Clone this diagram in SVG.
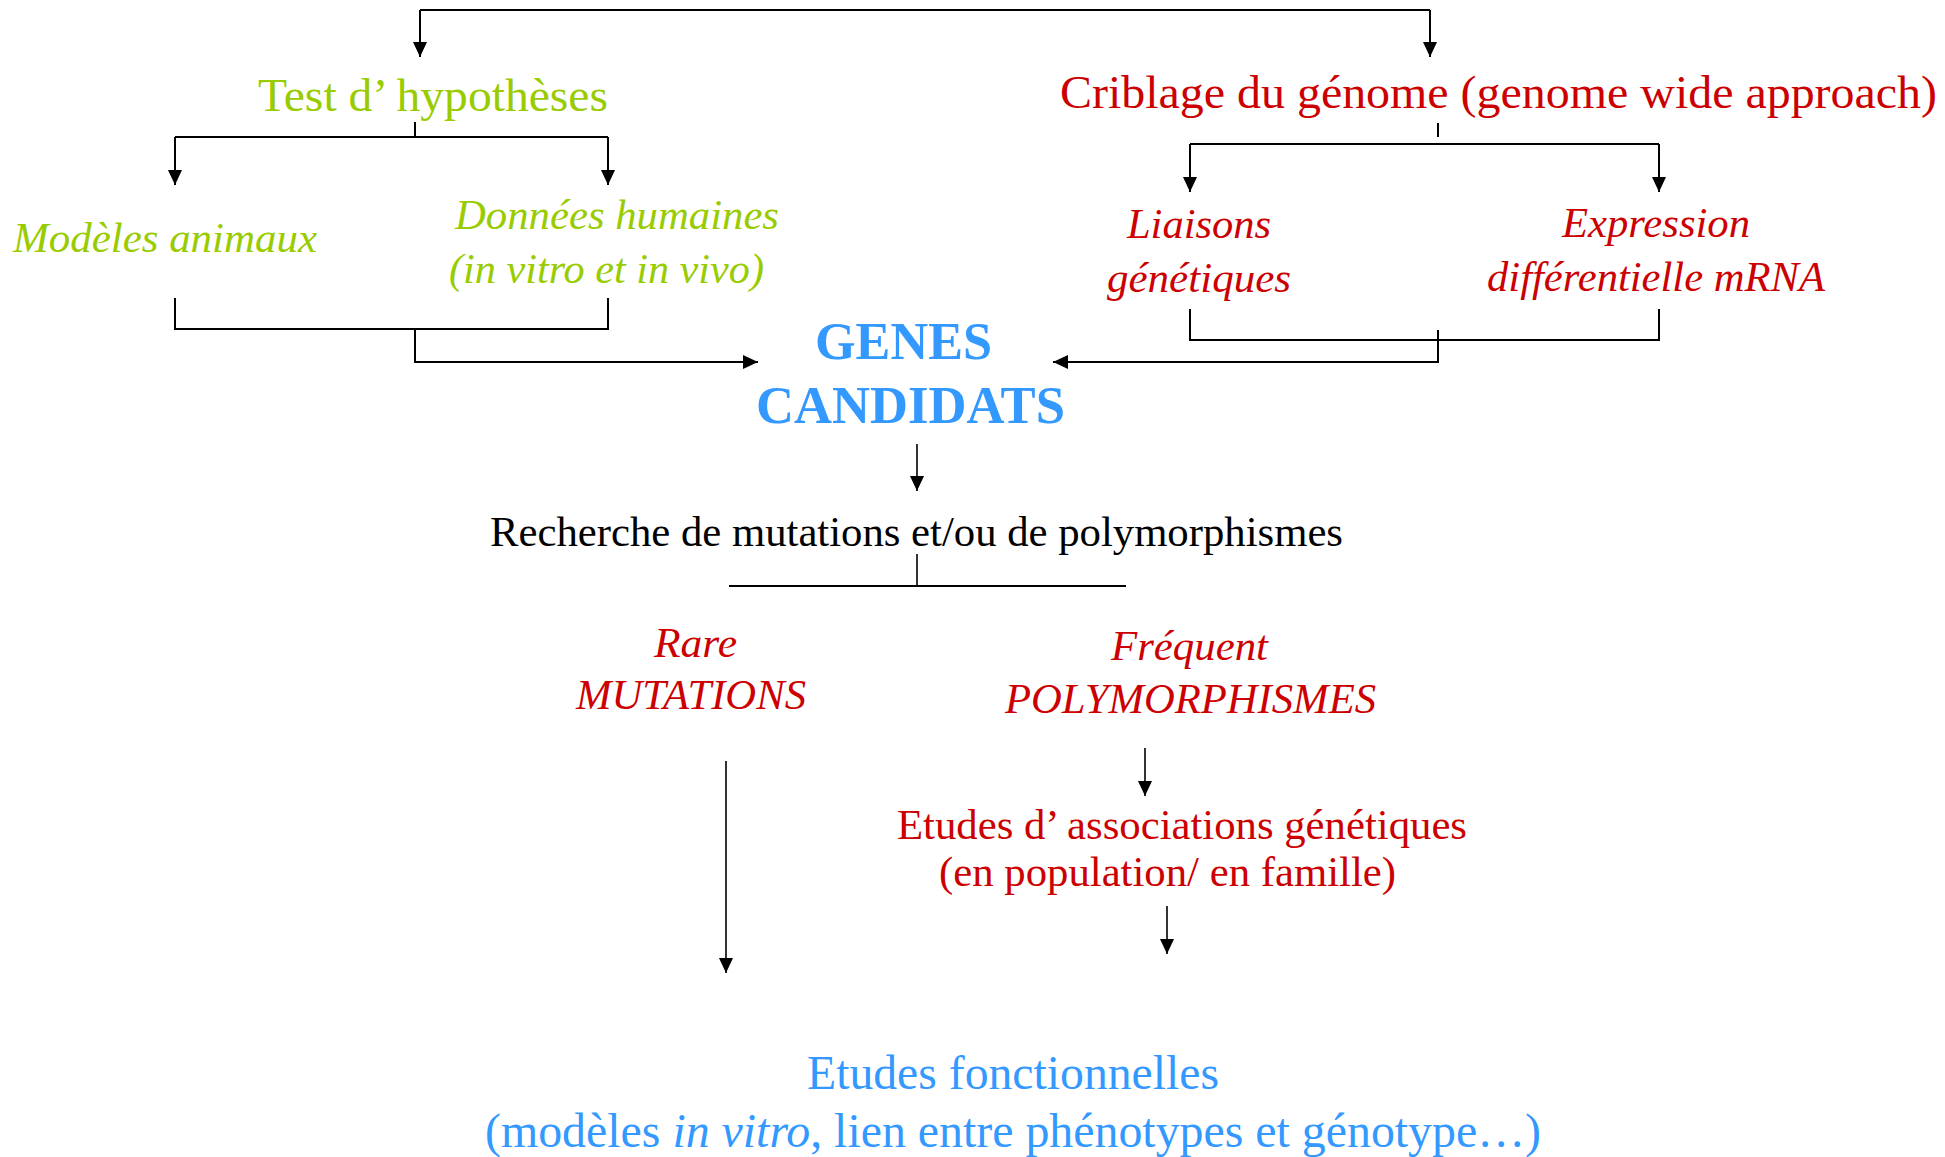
<svg xmlns="http://www.w3.org/2000/svg" width="1945" height="1157" viewBox="0 0 1945 1157">
<defs>
<marker id="ah" markerUnits="userSpaceOnUse" markerWidth="16" markerHeight="14" refX="15" refY="7" orient="auto">
<path d="M0,0 L15,7 L0,14 z" fill="#000"/>
</marker>
<style>
text{font-family:"Liberation Serif","Times New Roman",serif}
.g{fill:#99cc00}
.r{fill:#cc0000}
.b{fill:#3399ff}
.k{fill:#000}
.i{font-style:italic}
.s42{font-size:42px}
.s46{font-size:46px}
.s48{font-size:47.5px}
.bold{font-weight:bold;font-size:52px}
.c{fill:none;stroke:#000;stroke-width:2}
.t{fill:none;stroke:#000;stroke-width:1.6}
</style>
</defs>
<rect width="1945" height="1157" fill="#fff"/>
<g id="connectors">
<path class="c" d="M420,10 H1430"/>
<path class="c" d="M420,10 V57" marker-end="url(#ah)"/>
<path class="c" d="M1430,10 V57" marker-end="url(#ah)"/>
<path class="c" d="M415,122 V137"/>
<path class="c" d="M175,137 H608"/>
<path class="c" d="M175,137 V185" marker-end="url(#ah)"/>
<path class="c" d="M608,137 V185" marker-end="url(#ah)"/>
<path class="c" d="M175,298 V329 H608 V298"/>
<path class="c" d="M415,329 V362 H758" marker-end="url(#ah)"/>
<path class="c" d="M1438,123 V137"/>
<path class="c" d="M1190,144 H1659"/>
<path class="c" d="M1190,144 V192" marker-end="url(#ah)"/>
<path class="c" d="M1659,144 V192" marker-end="url(#ah)"/>
<path class="c" d="M1190,309 V340 H1659 V309"/>
<path class="c" d="M1438,330 V362 H1053" marker-end="url(#ah)"/>
<path class="t" d="M917,444 V491" marker-end="url(#ah)"/>
<path class="t" d="M917,554 V586"/>
<path class="c" d="M729,586 H1126"/>
<path class="t" d="M726,761 V973" marker-end="url(#ah)"/>
<path class="t" d="M1145,748 V796" marker-end="url(#ah)"/>
<path class="t" d="M1167,906 V954" marker-end="url(#ah)"/>
</g>
<g id="test-hypotheses"><text class="g s46" x="258" y="111" textLength="350" lengthAdjust="spacingAndGlyphs">Test d’ hypothèses</text></g>
<g id="criblage"><text class="r s46" x="1060" y="108" textLength="877" lengthAdjust="spacingAndGlyphs">Criblage du génome (genome wide approach)</text></g>
<g id="modeles-animaux"><text class="g i s42" x="13" y="252" textLength="304" lengthAdjust="spacingAndGlyphs">Modèles animaux</text></g>
<g id="donnees-humaines">
<text class="g i s42" x="455" y="229" textLength="324" lengthAdjust="spacingAndGlyphs">Données humaines</text>
<text class="g i s42" x="449" y="283" textLength="315" lengthAdjust="spacingAndGlyphs">(in vitro et in vivo)</text>
</g>
<g id="liaisons">
<text class="r i s42" x="1127" y="238" textLength="144" lengthAdjust="spacingAndGlyphs">Liaisons</text>
<text class="r i s42" x="1107" y="292" textLength="184" lengthAdjust="spacingAndGlyphs">génétiques</text>
</g>
<g id="expression">
<text class="r i s42" x="1562" y="237" textLength="188" lengthAdjust="spacingAndGlyphs">Expression</text>
<text class="r i s42" x="1487" y="291" textLength="338" lengthAdjust="spacingAndGlyphs">différentielle mRNA</text>
</g>
<g id="genes-candidats">
<text class="b bold" x="815" y="359" textLength="177" lengthAdjust="spacingAndGlyphs">GENES</text>
<text class="b bold" x="756" y="423" textLength="309" lengthAdjust="spacingAndGlyphs">CANDIDATS</text>
</g>
<g id="recherche"><text class="k s42" x="490" y="546" textLength="853" lengthAdjust="spacingAndGlyphs">Recherche de mutations et/ou de polymorphismes</text></g>
<g id="rare">
<text class="r i s42" x="654" y="657" textLength="83" lengthAdjust="spacingAndGlyphs">Rare</text>
<text class="r i s42" x="576" y="709" textLength="230" lengthAdjust="spacingAndGlyphs">MUTATIONS</text>
</g>
<g id="frequent">
<text class="r i s42" x="1111" y="660" textLength="157" lengthAdjust="spacingAndGlyphs">Fréquent</text>
<text class="r i s42" x="1005" y="713" textLength="371" lengthAdjust="spacingAndGlyphs">POLYMORPHISMES</text>
</g>
<g id="associations">
<text class="r s42" x="897" y="839" textLength="570" lengthAdjust="spacingAndGlyphs">Etudes d’ associations génétiques</text>
<text class="r s42" x="939" y="886" textLength="457" lengthAdjust="spacingAndGlyphs">(en population/ en famille)</text>
</g>
<g id="fonctionnelles">
<text class="b s48" x="807" y="1089" textLength="412" lengthAdjust="spacingAndGlyphs">Etudes fonctionnelles</text>
<text class="b s48" x="485" y="1147" textLength="1056" lengthAdjust="spacingAndGlyphs">(modèles <tspan class="i">in vitro</tspan>, lien entre phénotypes et génotype…)</text>
</g>
</svg>
